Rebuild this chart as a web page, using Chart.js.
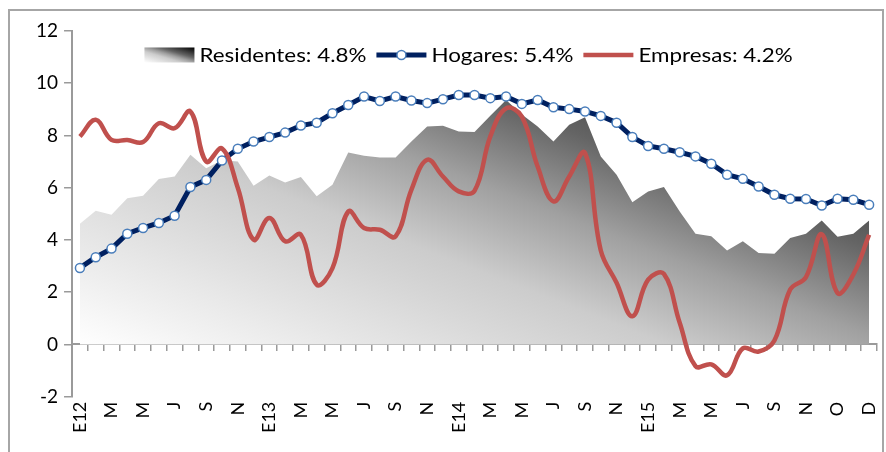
<!DOCTYPE html>
<html>
<head>
<meta charset="utf-8">
<script src="https://cdn.jsdelivr.net/npm/chart.js@4.4.1/dist/chart.umd.min.js"></script>
<style>
  html, body { margin: 0; padding: 0; background: #fff; }
  #wrap { position: relative; width: 886px; height: 452px; overflow: hidden; }
  #frame { position: absolute; left: 8px; top: 9px; width: 876px; height: 470px; border: 2px solid #a6a6a6; box-sizing: border-box; }
  canvas { position: absolute; left: 0; top: 0; }
</style>
</head>
<body>
<div id="wrap">
  <div id="frame"></div>
  <canvas id="chart" width="886" height="452"></canvas>
</div>
<script>
// months, labelled every second one
const categories = [
  "E12", "", "M", "", "M", "", "J", "", "S", "", "N", "",
  "E13", "", "M", "", "M", "", "J", "", "S", "", "N", "",
  "E14", "", "M", "", "M", "", "J", "", "S", "", "N", "",
  "E15", "", "M", "", "M", "", "J", "", "S", "", "N", "",
  "O", "", "D"
];

const seriesNames = ["Residentes: 4.8%", "Hogares: 5.4%", "Empresas: 4.2%"];

const residentes = [
  4.62, 5.12, 4.97, 5.60, 5.69, 6.33, 6.43, 7.26, 6.75, 7.05,
  7.00, 6.08, 6.47, 6.20, 6.41, 5.67, 6.11, 7.35, 7.22, 7.16,
  7.16, 7.77, 8.34, 8.37, 8.15, 8.13, 8.76, 9.36, 8.80, 8.34,
  7.77, 8.41, 8.70, 7.20, 6.50, 5.44, 5.86, 6.03, 5.09, 4.24,
  4.14, 3.60, 3.95, 3.50, 3.47, 4.08, 4.24, 4.75, 4.12, 4.24, 4.75
];

const hogares = [
  2.93, 3.34, 3.67, 4.24, 4.46, 4.65, 4.93, 6.03, 6.30, 7.04,
  7.49, 7.77, 7.94, 8.11, 8.38, 8.49, 8.85, 9.17, 9.49, 9.32,
  9.49, 9.34, 9.24, 9.39, 9.55, 9.55, 9.43, 9.49, 9.21, 9.36,
  9.08, 9.01, 8.92, 8.75, 8.49, 7.94, 7.60, 7.49, 7.36, 7.20,
  6.92, 6.50, 6.34, 6.05, 5.73, 5.58, 5.57, 5.32, 5.58, 5.54, 5.35
];

const empresas = [
  7.96, 8.60, 7.83, 7.83, 7.75, 8.47, 8.28, 8.92, 7.00, 7.50,
  6.00, 4.01, 4.84, 3.95, 4.20, 2.29, 2.92, 5.09, 4.46, 4.39,
  4.14, 5.92, 7.07, 6.43, 5.86, 5.88, 7.96, 9.04, 8.72, 6.81,
  5.48, 6.43, 7.33, 3.60, 2.36, 1.08, 2.48, 2.70, 0.83, -0.83,
  -0.76, -1.18, -0.15, -0.27, 0.15, 2.10, 2.58, 4.22, 1.97, 2.68, 4.20
];

const yTicks = { min: -2, max: 12, step: 2 };

const FONT = "Lato";
const AXIS_GREY = "#9a9a9a";

// white bottom-left -> black top-right, stretched over the box
function diagGradient(ctx, left, right, top, bottom) {
  const gx = 1 / (2 * (right - left));
  const gy = -1 / (2 * (bottom - top));
  const g2 = gx * gx + gy * gy;
  const g = ctx.createLinearGradient(left, bottom, left + gx / g2, bottom + gy / g2);
  g.addColorStop(0, "#ffffff");
  g.addColorStop(0.37, "#cccccc");
  g.addColorStop(0.51, "#a0a0a0");
  g.addColorStop(0.65, "#646464");
  g.addColorStop(1, "#000000");
  return g;
}

function areaFill(c) {
  const chart = c.chart;
  const a = chart.chartArea;
  if (!a) return "#cccccc";
  return diagGradient(chart.ctx, a.left, a.right, a.top, chart.scales.y.getPixelForValue(0));
}

// legend drawn inside the plot, like the original (text a bit wide)
const topLegend = {
  id: "topLegend",
  afterDraw(chart) {
    const ctx = chart.ctx;
    const a = chart.chartArea;
    const sw = 50, gapIn = 5, gapOut = 10, stretch = 1.12;
    ctx.save();
    ctx.font = "20px " + FONT;
    const widths = seriesNames.map(n => ctx.measureText(n).width * stretch);
    let total = gapOut * (seriesNames.length - 1);
    widths.forEach(w => total += sw + gapIn + w);
    let x = (a.left + a.right) / 2 - total / 2 - 6;
    const y = a.top + 24;
    seriesNames.forEach((name, i) => {
      const ds = chart.data.datasets[i];
      if (i === 0) {
        ctx.fillStyle = diagGradient(ctx, x, x + sw, y - 7.5, y + 7.5);
        ctx.fillRect(x, y - 7.5, sw, 15);
      } else {
        ctx.strokeStyle = ds.borderColor;
        ctx.lineWidth = ds.borderWidth;
        ctx.beginPath();
        ctx.moveTo(x, y);
        ctx.lineTo(x + sw, y);
        ctx.stroke();
        if (ds.pointRadius > 0) {
          ctx.beginPath();
          ctx.arc(x + sw / 2, y, ds.pointRadius, 0, Math.PI * 2);
          ctx.fillStyle = ds.pointBackgroundColor;
          ctx.fill();
          ctx.lineWidth = ds.pointBorderWidth;
          ctx.strokeStyle = ds.pointBorderColor;
          ctx.stroke();
        }
      }
      ctx.save();
      ctx.translate(x + sw + gapIn, y + 1);
      ctx.scale(stretch, 1);
      ctx.fillStyle = "#000";
      ctx.textBaseline = "middle";
      ctx.textAlign = "left";
      ctx.fillText(name, 0, 0);
      ctx.restore();
      x += sw + gapIn + widths[i] + gapOut;
    });
    ctx.restore();
  }
};

new Chart(document.getElementById("chart"), {
  type: "line",
  data: {
    labels: categories,
    datasets: [
      {
        label: seriesNames[0],
        data: residentes,
        fill: "origin",
        backgroundColor: areaFill,
        borderWidth: 0,
        borderColor: "rgba(0,0,0,0)",
        pointRadius: 0,
        tension: 0,
        order: 3
      },
      {
        label: seriesNames[1],
        data: hogares,
        borderColor: "#002060",
        borderWidth: 5,
        pointRadius: 4.5,
        pointBackgroundColor: "#ffffff",
        pointBorderColor: "#4a7ebb",
        pointBorderWidth: 1.5,
        tension: 0,
        order: 2
      },
      {
        label: seriesNames[2],
        data: empresas,
        borderColor: "#c0504d",
        borderWidth: 4.5,
        pointRadius: 0,
        tension: 0.4,
        order: 1
      }
    ]
  },
  options: {
    responsive: false,
    animation: false,
    layout: { padding: { left: 30, right: 9, top: 31, bottom: 14 } },
    plugins: { legend: { display: false }, tooltip: { enabled: false } },
    scales: {
      x: {
        type: "category",
        offset: true,
        border: { display: false },
        grid: { display: false, drawTicks: false },
        ticks: {
          autoSkip: false, maxRotation: 90, minRotation: 90, padding: 5,
          color: "#000", font: { family: FONT, size: 18 }
        },
        afterFit(scale) {
          scale.paddingLeft = 0;
          scale.paddingRight = 0;
        }
      },
      x0: {
        type: "category",
        axis: "x",
        position: { y: 0 },
        offset: true,
        border: { color: AXIS_GREY, width: 2 },
        grid: { offset: true, drawOnChartArea: false, drawTicks: true, tickLength: 6, color: AXIS_GREY, lineWidth: 1.5 },
        ticks: { display: false }
      },
      y: {
        min: yTicks.min,
        max: yTicks.max,
        border: { color: AXIS_GREY, width: 2 },
        grid: { drawOnChartArea: false, tickLength: 8, color: AXIS_GREY, lineWidth: 1.5 },
        ticks: { stepSize: yTicks.step, padding: 6, color: "#000", font: { family: FONT, size: 19 } }
      }
    }
  },
  plugins: [topLegend]
});
</script>
</body>
</html>
